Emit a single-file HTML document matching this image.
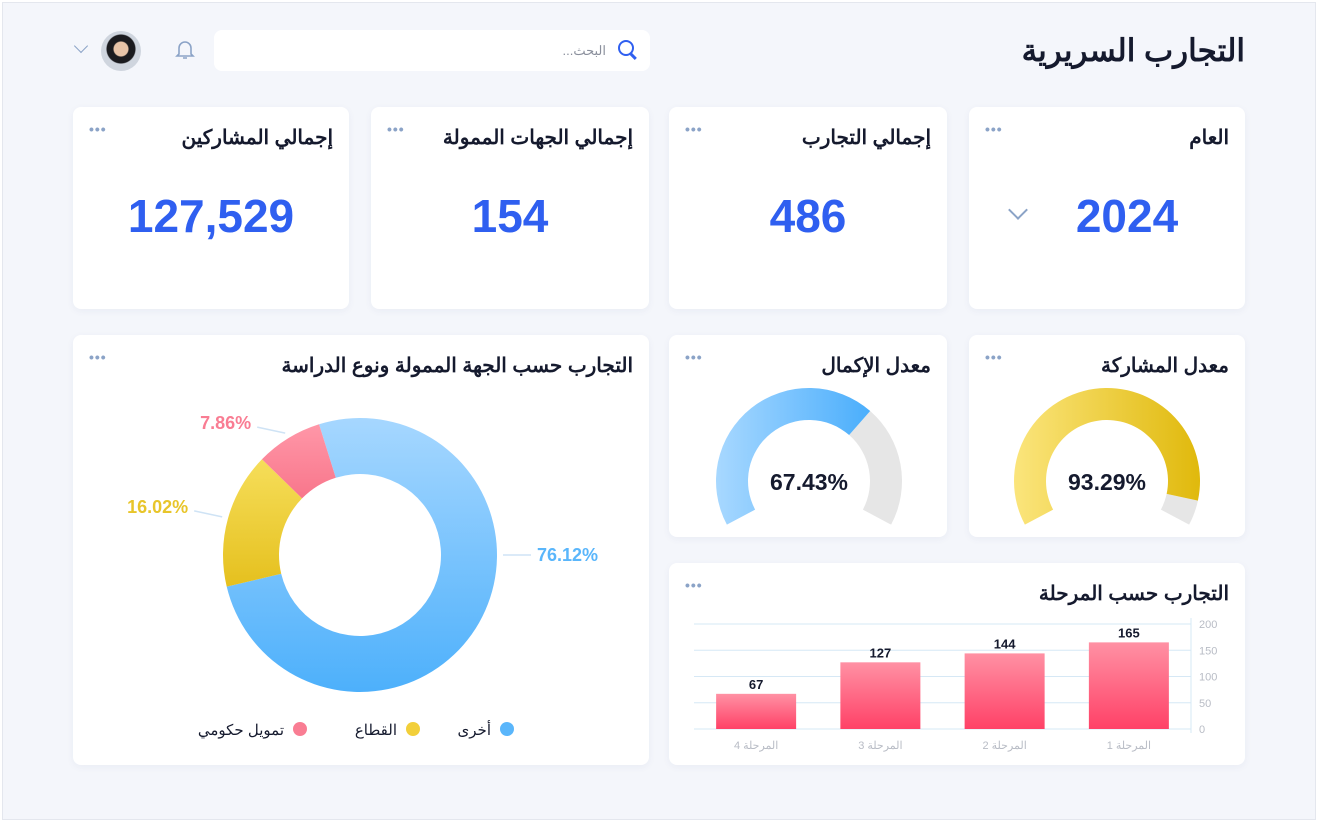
<!DOCTYPE html>
<html lang="ar"><head><meta charset="utf-8">
<style>
*{box-sizing:border-box;margin:0;padding:0}
body{width:1318px;height:822px;background:#fff;font-family:"Liberation Sans","Noto Sans CJK SC",sans-serif;position:relative;overflow:hidden}
.page{position:absolute;left:2px;top:2px;width:1314px;height:818px;background:#f4f6fb;border:1px solid #e4e7ee}
.card{position:absolute;background:#fff;border-radius:8px;box-shadow:0 2px 8px rgba(40,60,120,.05)}
.ttl{position:absolute;right:16px;top:18px;font-size:20px;font-weight:bold;color:#151a2e;direction:rtl;white-space:nowrap}
.dots{position:absolute;left:16px;top:14px;color:#8ba3c7;font-size:14px;letter-spacing:1px;font-weight:bold}
.big{position:absolute;left:0;right:0;top:82px;text-align:center;font-size:46px;font-weight:bold;color:#2f5ff0}
svg text{font-family:"Liberation Sans",sans-serif}
</style></head><body>
<div class="page">
<div style="position:absolute;right:70px;top:30px;font-size:31px;font-weight:bold;color:#151a2e;direction:rtl">التجارب السريرية</div>
<div style="position:absolute;left:211px;top:27px;width:436px;height:41px;background:#fff;border-radius:8px;">
 <span style="position:absolute;right:16px;top:10px;width:16px;height:16px;border:2.5px solid #2f5ff0;border-radius:50%"></span>
 <span style="position:absolute;right:13px;top:25px;width:7px;height:2.5px;background:#2f5ff0;transform:rotate(45deg)"></span>
 <span style="position:absolute;right:44px;top:13px;font-size:13px;color:#8a8f9c;direction:rtl">البحث...</span>
</div>
<svg style="position:absolute;left:172px;top:36px" width="20" height="22" viewBox="0 0 20 22"><path d="M4 15V9a6 6 0 0 1 12 0v6l2 2H2z M8 19h4" fill="none" stroke="#8ba3c7" stroke-width="1.6"/></svg>
<div style="position:absolute;left:98px;top:28px;width:40px;height:40px;border-radius:50%;background:radial-gradient(circle at 50% 45%,#e8c4a8 0 7px,#1b1b1f 8px 14px,#cfd5de 15px)"></div>
<div style="position:absolute;left:73px;top:38px;width:10px;height:10px;border-right:1.6px solid #8ba3c7;border-bottom:1.6px solid #8ba3c7;transform:rotate(45deg)"></div>

<div class="card" style="left:966px;top:104px;width:276px;height:202px">
 <div class="ttl">العام</div><div class="dots">•••</div>
 <div class="big" style="left:40px">2024</div>
 <div style="position:absolute;left:42px;top:96px;width:14px;height:14px;border-right:2px solid #8ba3c7;border-bottom:2px solid #8ba3c7;transform:rotate(45deg)"></div>
</div>
<div class="card" style="left:666px;top:104px;width:278px;height:202px">
 <div class="ttl">إجمالي التجارب</div><div class="dots">•••</div>
 <div class="big">486</div>
</div>
<div class="card" style="left:368px;top:104px;width:278px;height:202px">
 <div class="ttl">إجمالي الجهات الممولة</div><div class="dots">•••</div>
 <div class="big">154</div>
</div>
<div class="card" style="left:70px;top:104px;width:276px;height:202px">
 <div class="ttl">إجمالي المشاركين</div><div class="dots">•••</div>
 <div class="big">127,529</div>
</div>

<div class="card" style="left:966px;top:332px;width:276px;height:202px">
 <div class="ttl">معدل المشاركة</div><div class="dots">•••</div>
</div>
<div class="card" style="left:666px;top:332px;width:278px;height:202px">
 <div class="ttl">معدل الإكمال</div><div class="dots">•••</div>
</div>
<div class="card" style="left:70px;top:332px;width:576px;height:430px">
 <div class="ttl">التجارب حسب الجهة الممولة ونوع الدراسة</div><div class="dots">•••</div>
</div>
<div class="card" style="left:666px;top:560px;width:576px;height:202px">
 <div class="ttl">التجارب حسب المرحلة</div><div class="dots">•••</div>
</div>
</div>

<svg id="charts" width="1318" height="822" style="position:absolute;left:0;top:0">
<defs>
<linearGradient id="gb" x1="0" x2="1"><stop offset="0" stop-color="#a8d8ff"/><stop offset="1" stop-color="#4aaefc"/></linearGradient>
<linearGradient id="gy" x1="0" x2="1"><stop offset="0" stop-color="#fbe57c"/><stop offset="1" stop-color="#e0b90c"/></linearGradient>
<linearGradient id="dB" x1="0" y1="0" x2="0" y2="1"><stop offset="0" stop-color="#a6d7ff"/><stop offset="1" stop-color="#4db0fb"/></linearGradient>
<linearGradient id="dY" x1="0" y1="0" x2="0" y2="1"><stop offset="0" stop-color="#f6de5a"/><stop offset="1" stop-color="#e5c01e"/></linearGradient>
<linearGradient id="dP" x1="0" y1="0" x2="0" y2="1"><stop offset="0" stop-color="#ff97a8"/><stop offset="1" stop-color="#f8768b"/></linearGradient>
<linearGradient id="bar" x1="0" y1="0" x2="0" y2="1"><stop offset="0" stop-color="#ff91a4"/><stop offset="1" stop-color="#ff4167"/></linearGradient>
</defs>
<g id="gauges"></g><g id="donut"></g><g id="bars"></g>
</svg>
<script>
const gaugeValues=[67.43,93.29];
const donutLabels=['أخرى','القطاع','تمويل حكومي'];
const donutValues=[76.12,16.02,7.86];
const stageLabels=['المرحلة 1','المرحلة 2','المرحلة 3','المرحلة 4'];
const stageValues=[165,144,127,67];
const yTicks=[0,50,100,150,200];

const NS='http://www.w3.org/2000/svg';
function mk(t,a,p){const e=document.createElementNS(NS,t);for(const k in a)e.setAttribute(k,a[k]);p.appendChild(e);return e;}
function pt(cx,cy,r,deg){const a=deg*Math.PI/180;return [cx+r*Math.sin(a),cy-r*Math.cos(a)];}
function arc(cx,cy,r0,r1,a0,a1){const L=(a1-a0)>180?1:0;const p1=pt(cx,cy,r1,a0),p2=pt(cx,cy,r1,a1),p3=pt(cx,cy,r0,a1),p4=pt(cx,cy,r0,a0);
return `M${p1}A${r1},${r1} 0 ${L} 1 ${p2}L${p3}A${r0},${r0} 0 ${L} 0 ${p4}Z`;}

const gG=document.getElementById('gauges');
const gCfg=[{cx:809,cy:481,fill:'url(#gb)',n:'completion'},{cx:1107,cy:481,fill:'url(#gy)',n:'participation'}];
const gStart=-118,gSweep=236;
gaugeValues.forEach((v,i)=>{const c=gCfg[i];const end=gStart+gSweep*v/100;
 const bg=mk('path',{d:arc(c.cx,c.cy,61,93,end,gStart+gSweep),fill:'#e6e6e6'},gG);
 
 
 const fg=mk('path',{d:arc(c.cx,c.cy,61,93,gStart,end),fill:c.fill},gG);
 
 
 const t=mk('text',{x:c.cx,y:c.cy+9,'text-anchor':'middle','font-size':23,'font-weight':'bold',fill:'#151a2e'},gG);
 t.textContent=v.toFixed(2)+'%';
 
 
});

const dG=document.getElementById('donut');
const dcx=360,dcy=555,dR=137,dr=81;
const dFills=['url(#dB)','url(#dY)','url(#dP)'];
const dText=['#5ab6fb','#e8c52a','#f97d93'];
const dNames=['other','sector','government'];
let acc=-17.4;const tot=donutValues.reduce((a,b)=>a+b,0);
donutValues.forEach((v,i)=>{const s=acc,e=acc+360*v/tot;acc=e;
 const p=mk('path',{d:arc(dcx,dcy,dr,dR,s,e),fill:dFills[i]},dG);
 
 
 let m=(s+e)/2; if(e-s>180) m=90;
 const right=Math.sin(m*Math.PI/180)>0;
 const a=pt(dcx,dcy,dR+6,m);
 const ly=right?a[1]:a[1]-10;
 const bx=right?a[0]+28:a[0]-28;
 const ln=mk('line',{x1:a[0],y1:a[1],x2:bx,y2:right?ly:ly+4},dG);
 ln.setAttribute('stroke','#cfe3f5');
 ln.setAttribute('stroke-width','1.5');
 
 
 const t=mk('text',{x:bx+(right?6:-6),y:ly+6,'text-anchor':right?'start':'end','font-size':18,'font-weight':'bold',fill:dText[i]},dG);
 t.textContent=v.toFixed(2)+'%';
 
 
});
const lgX=[507,413,300];const lgC=['#5ab6fb','#f2cf3a','#f97d93'];
donutLabels.forEach((l,i)=>{
 const c=mk('circle',{cx:lgX[i],cy:729,r:7,fill:lgC[i]},dG);
 
 
 const t=mk('text',{x:lgX[i]-16,y:735,'text-anchor':'end','font-size':15,fill:'#151a2e'},dG);
 t.textContent=l;
 
 
});

const bG=document.getElementById('bars');
const px0=694,px1=1191,py0=729,py1=624,yMax=200;
const ys=v=>py0-(py0-py1)*v/yMax;
const band=(px1-px0)/stageLabels.length;
const xs=i=>px1-band*(i+0.5);
yTicks.forEach(v=>{
 const l=mk('line',{x1:px0,x2:px1,y1:ys(v),y2:ys(v),stroke:'#d6e8f5','stroke-width':1},bG);
 
 
 const t=mk('text',{x:px1+8,y:ys(v)+4,'font-size':11,fill:'#b8bcc5'},bG);
 t.textContent=v;
 
 
});
const ax=mk('line',{x1:px1,x2:px1,y1:py1-6,y2:py0+4,stroke:'#d6e8f5'},bG);


stageValues.forEach((v,i)=>{const cx=xs(i),w=80;
 const r=mk('rect',{x:cx-w/2,y:ys(v),width:w,height:py0-ys(v),fill:'url(#bar)'},bG);
 
 
 const t=mk('text',{x:cx,y:ys(v)-5,'text-anchor':'middle','font-size':13,'font-weight':'bold',fill:'#151a2e'},bG);
 t.textContent=v;
 
 
 const x=mk('text',{x:cx,y:py0+20,'text-anchor':'middle','font-size':11,fill:'#b8bcc5'},bG);
 x.textContent=stageLabels[i];
 
 
});
</script>
</body></html>
